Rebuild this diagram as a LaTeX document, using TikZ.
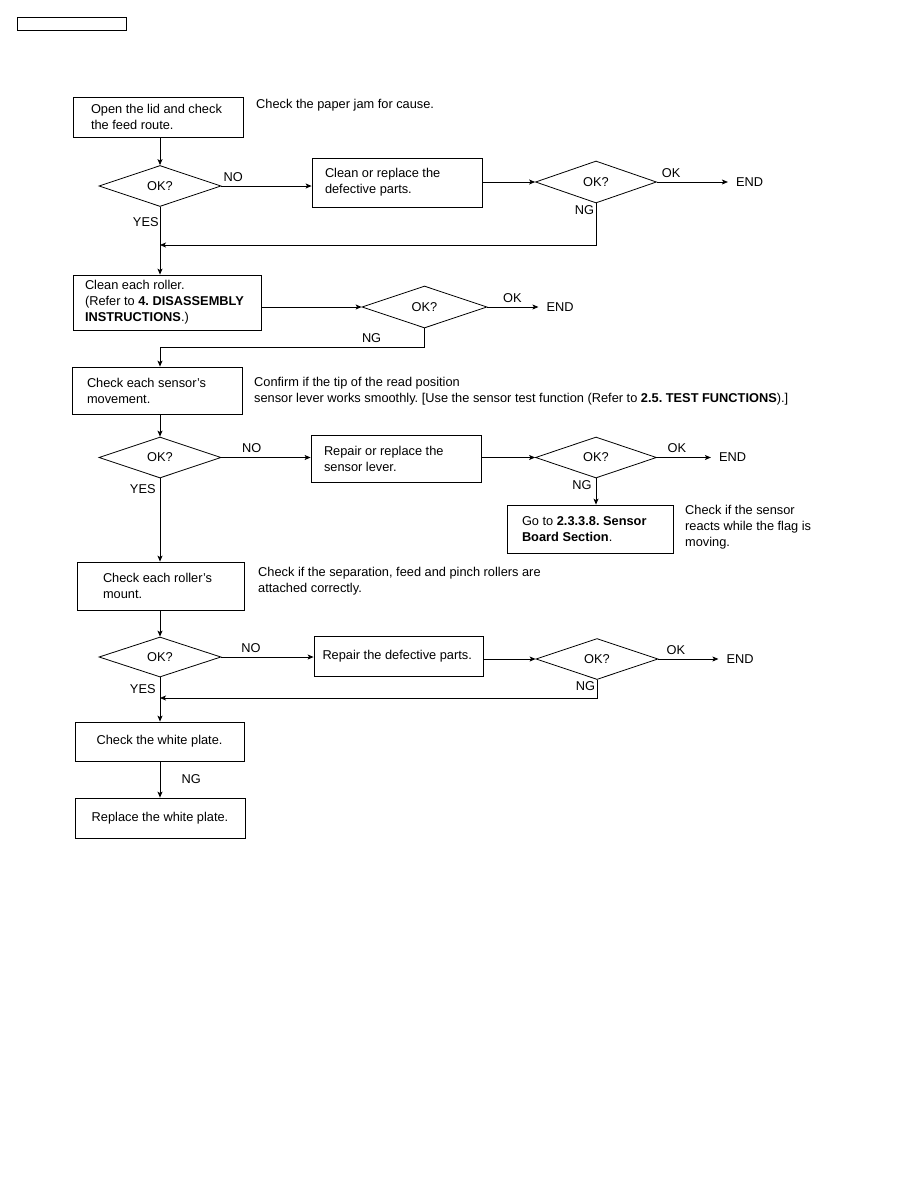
\documentclass[tikz,border=0pt]{standalone}
\usepackage{fontspec}
\setmainfont{Liberation Sans}
\usetikzlibrary{shapes,arrows,arrows.meta,positioning,calc}
\newcommand{\flowfont}{\fontsize{12.8}{16}\selectfont\frenchspacing}

\begin{document}
\begin{tikzpicture}[
    x=1pt, y=-1pt,
    every node/.style={font=\flowfont},
    box/.style={rectangle, draw=black, line width=0.8pt, align=flush left, inner xsep=13pt, inner ysep=2pt},
    decision/.style={diamond, draw=black, line width=0.8pt, aspect=3, inner sep=0pt, minimum width=122pt, minimum height=41pt},
    note/.style={anchor=west, inner sep=0pt, align=left},
    lbl/.style={inner sep=4pt},
    endtxt/.style={inner xsep=8pt, inner ysep=0pt},
    arrow/.style={->, >={Stealth[length=6pt, width=5pt, inset=1.5pt]}, line width=0.8pt}
]
\path[fill=white, use as bounding box] (0,0) rectangle (918,1188);
\node[draw=black, line width=0.8pt, minimum width=109pt, minimum height=13pt, inner sep=0pt] (header) at (71.5,23.5) {};

% Step 1: feed route
\node[box, text width=134pt, inner xsep=18pt, minimum height=40pt] (open) at (158,117) {Open the lid and check\\the feed route.};
\node[note] (jamnote) at (256,105) {Check the paper jam for cause.};
\node[decision] (d1) at (160,186) {OK?};
\node[box, text width=144pt, minimum height=49pt] (clean) at (397,182.5) {Clean or replace the\\defective parts.};
\node[decision, minimum width=121pt, minimum height=42pt] (d2) at (596,182) {OK?};
\node[endtxt, right=71pt of d2] (end1) {END};
\coordinate (j1) at (160,245);

\draw[arrow] (d1.north |- open.south) -- (d1.north);
\draw[arrow] (d1.east) -- node[lbl, above, pos=.13] {NO} (d1.east -| clean.west);
\draw[arrow] (clean.east |- d2) -- (d2.west);
\draw[arrow] (d2) -- node[lbl, above, pos=.2] {OK} (end1);
\draw[arrow] (d2.south) |- node[below left, inner sep=1.5pt, pos=0] {NG} (j1);

% Step 2: rollers
\node[box, text width=164pt, inner xsep=12pt, minimum height=55pt] (roller) at (167,302.5) {Clean each roller.\\(Refer to \textbf{4. DISASSEMBLY}\\\textbf{INSTRUCTIONS}.)};
\node[decision, minimum width=125pt, minimum height=42pt] (d3) at (424.5,307) {OK?};
\node[endtxt, right=51pt of d3] (end2) {END};

\draw[arrow] (d1.south) -- node[left, inner xsep=1pt, pos=.22] {YES} (d1.south |- roller.north);
\draw[arrow] (roller.east |- d3) -- (d3.west);
\draw[arrow] (d3) -- node[lbl, above, pos=.49] {OK} (end2);

% Step 3: sensors
\node[box, text width=140pt, inner xsep=15pt, minimum height=47pt] (sens) at (157,390.5) {Check each sensor's\\movement.};
\node[note] (sensnote) at (254,391) {Confirm if the tip of the read position\\sensor lever works smoothly. [Use the sensor test function (Refer to \textbf{2.5. TEST FUNCTIONS}).]};
\node[decision] (d4) at (160,457.5) {OK?};
\node[box, text width=144pt, minimum height=47pt] (lever) at (396,458.5) {Repair or replace the\\sensor lever.};
\node[decision, minimum width=121pt] (d5) at (596,457.5) {OK?};
\node[endtxt, right=54pt of d5] (end3) {END};
\node[box, text width=136pt, inner xsep=15pt, minimum height=48pt] (board) at (590,529) {Go to \textbf{2.3.3.8. Sensor}\\\textbf{Board Section}.};
\node[note] (flagnote) at (685,527) {Check if the sensor\\reacts while the flag is\\moving.};

\draw[arrow] (d3.south) -- ++(0,19) -| node[lbl, above, pos=.1] {NG} (d1.south |- sens.north);
\draw[arrow] (d4.north |- sens.south) -- (d4.north);
\draw[arrow] (d4.east) -- node[lbl, above, pos=.34] {NO} (d4.east -| lever.west);
\draw[arrow] (lever.east |- d5) -- (d5.west);
\draw[arrow] (d5) -- node[lbl, above, pos=.37] {OK} (end3);
\draw[arrow] (d5.south) -- node[lbl, left, pos=.26] {NG} (d5.south |- board.north);

% Step 4: roller mount
\node[box, text width=115pt, inner xsep=26pt, minimum height=48pt] (mount) at (160.5,586) {Check each roller's\\mount.};
\node[note] (mountnote) at (258,581) {Check if the separation, feed and pinch rollers are\\attached correctly.};
\node[decision, minimum height=40pt] (d6) at (160,657) {OK?};
\node[box, text width=152pt, inner xsep=8.5pt, minimum height=40pt] (fix) at (398.5,656) {Repair the defective parts.};
\node[decision] (d7) at (597,659) {OK?};
\node[endtxt, right=60pt of d7] (end4) {END};
\coordinate (j3) at (160,698);

\draw[arrow] (d4.south) -- node[lbl, left, pos=.13] {YES} (d4.south |- mount.north);
\draw[arrow] (d6.north |- mount.south) -- (d6.north);
\draw[arrow] (d6.east) -- node[lbl, above, pos=.32] {NO} (d6.east -| fix.west);
\draw[arrow] (fix.east |- d7) -- (d7.west);
\draw[arrow] (d7) -- node[lbl, above, pos=.29] {OK} (end4);
\draw[arrow] (d7.south) |- node[below left, inner sep=1.5pt, pos=0] {NG} (j3);

% Step 5: white plate
\node[box, align=flush center, text width=149pt, inner xsep=10pt, minimum height=39pt] (white) at (159.5,741.5) {Check the white plate.};
\node[box, align=flush center, text width=150pt, inner xsep=10pt, minimum height=40pt] (plate) at (160,818) {Replace the white plate.};

\draw[arrow] (d6.south) -- node[lbl, left, pos=.27] {YES} (d6.south |- white.north);
\draw[arrow] (d6.south |- white.south) -- node[right=18pt, pos=.5] {NG} (d6.south |- plate.north);
\end{tikzpicture}
\end{document}
